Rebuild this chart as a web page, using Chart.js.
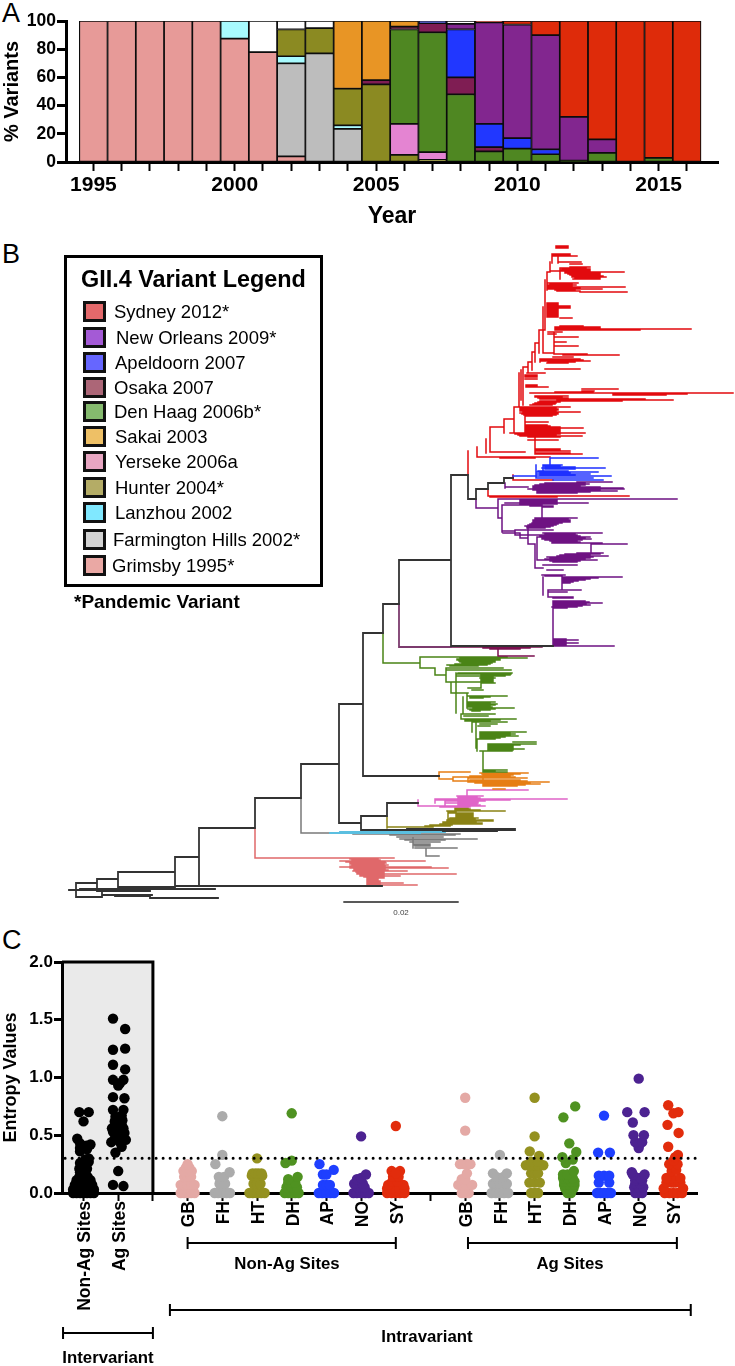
<!DOCTYPE html>
<html>
<head>
<meta charset="utf-8">
<title>GII.4 variants</title>
<script src="https://cdn.jsdelivr.net/npm/chart.js@4/dist/chart.umd.min.js"></script>
<style>
html, body { margin: 0; padding: 0; background: #fff; }
body { position: relative; width: 735px; height: 1366px; overflow: hidden; font-family: 'Liberation Sans', Arial, sans-serif; color: #000; }
canvas { position: absolute; left: 0; }
#chartA { top: 0; }
#chartB { top: 230px; }
#chartC { top: 930px; }
.panel { position: absolute; left: 2px; font-size: 27px; line-height: 30px; }
#legendBox { position: absolute; left: 64px; top: 255px; width: 253px; height: 326px; border: 3px solid #000; background: #fff; }
#legendBox h3 { position: absolute; left: 14px; top: 8px; margin: 0; font-size: 23.4px; line-height: 26px; white-space: nowrap; }
.entry { position: absolute; font-size: 18.5px; line-height: 20px; white-space: nowrap; }
.swatch { position: absolute; left: -27px; top: -1px; width: 17px; height: 15px; border: 3px solid #111; }
#pandemic { position: absolute; left: 74px; top: 593px; font-size: 19px; line-height: 18px; font-weight: bold; }
</style>
</head>
<body>
<div class="panel" style="top:-2px">A</div>
<div class="panel" style="top:239px">B</div>
<div class="panel" style="top:925px">C</div>
<canvas id="chartA" width="735" height="230"></canvas>
<canvas id="chartB" width="735" height="695"></canvas>
<canvas id="chartC" width="735" height="436"></canvas>
<div id="legendBox"><h3>GII.4 Variant Legend</h3></div>
<div id="pandemic">*Pandemic Variant</div>
<script>
/* ============================================
   DATA - PANEL A (% of sequences per year)
============================================ */
const years = [1995,1996,1997,1998,1999,2000,2001,2002,2003,2004,2005,2006,2007,2008,2009,2010,2011,2012,2013,2014,2015,2016];
const grimsbyPct    = [100,100,100,100,100,87.5,78,4,null,null,null,null,null,null,null,null,null,null,null,null,null,null];
const farmingtonPct = [null,null,null,null,null,null,null,66,77,23.5,null,null,null,null,null,null,null,null,null,null,null,null];
const lanzhouPct    = [null,null,null,null,null,12.5,null,5,null,2.5,null,null,null,null,null,null,null,null,null,null,null,null];
const hunterPct     = [null,null,null,null,null,null,null,19,18,26,55,5,1.5,null,null,null,null,null,null,null,null,null];
const yersekePct    = [null,null,null,null,null,null,null,null,null,null,null,22,5.5,null,null,null,null,null,null,null,null,null];
const denHaagPct    = [null,null,null,null,null,null,null,null,null,null,null,67,85,48,7.5,9.5,5.5,1,6.5,null,3,null];
const osakaPct      = [null,null,null,null,null,null,null,null,null,null,3,2,6.5,12,3,null,null,null,null,null,null,null];
const apeldoornPct  = [null,null,null,null,null,null,null,null,null,null,null,null,1.5,34,16.5,7.5,3.5,null,null,null,null,null];
const newOrleansPct = [null,null,null,null,null,null,null,null,null,null,null,null,null,4,72,80.5,81,31,9.5,null,null,null];
const sakaiPct      = [null,null,null,null,null,null,null,null,null,48,42,4,null,null,null,null,null,null,null,null,null,null];
const sydneyPct     = [null,null,null,null,null,null,null,null,null,null,null,null,null,null,1,2.5,10,68,84,100,97,100];
const otherPct      = [null,null,null,null,null,null,22,6,5,null,null,null,null,2,null,null,null,null,null,null,null,null];

/* ============================================
   DATA - PANEL B (tree branches)
   H = [row, depth from, depth to], V = [depth, row from, row to]
============================================ */
const blackH = [[475,451,468],[499,468,476],[489,476,488],[483,488,504],[478,504,513],[646,451,553],[560,399,451],[604,383,399],[633,363,383],[704,339,363],[776,363,439],[823,339,361],[816,361,387],[830,361,515],[829,407,515],[803,387,418],[764,301,339],[798,255,301],[828,199,255],[886,175,370],[886,340,382],[857,175,199],[887,118,175],[872,118,175],[879,97,118],[883,76,97],[897,76,102],[890,69,97],[889,80,97],[889,97,215],[890,118,150],[891,97,150],[895,102,152],[896,115,150],[898,150,218],[831,443,497]];
const blackV = [[451,475,646],[468,475,499],[476,489,499],[488,483,489],[504,478,483],[399,560,604],[383,604,633],[363,633,776],[339,704,823],[361,816,830],[387,803,816],[301,764,798],[255,798,828],[199,828,886],[175,857,887],[118,872,888],[97,879,890],[76,883,897],[102,892,897]];
const scaleBarH = [[902,344,458]];
const mauveH = [[647,399,451]];
const mauveV = [[399,604,647]];

const redH = [[246,556,568],[247,556,568],[248,556,568],[254,552,570],[255,552,570],[256,552,577],[262,558,581],[264,570,582],
  [267,570,590],[268,560,586],[269,562,590],[270,560,590],[271,550,590],[272,565,624],[273,565,600],[274,568,600],[275,570,600],[276,572,603],[277,572,606],[278,575,600],[279,573,600],
  [283,548,578],[284,550,572],[285,547,576],[286,547,572],[287,547,625],[288,548,580],[289,548,602],[290,555,575],[291,557,580],[292,580,627],
  [303,547,558],[304,547,558],[305,547,558],[306,547,570],[307,547,570],[308,547,570],[309,547,558],[310,547,558],[311,547,558],[312,547,558],[313,547,558],[314,547,558],[315,547,558],[316,547,558],[317,547,558],[318,560,572],
  [326,560,583],[327,555,600],[328,555,600],[329,555,691],[330,555,640],[332,548,562],[334,548,556],
  [337,554,578],[342,554,566],[346,554,578],[353,543,554],[354,554,587],[355,563,619],[357,553,573],
  [359,541,580],[360,540,583],[361,540,590],[362,548,575],[363,547,568],[369,545,580],[373,527,545],
  [375,525,537],[376,525,537],[377,525,537],[379,525,537],[385,526,537],[386,526,537],[387,526,548],
  [389,582,618],[391,582,594],[392,555,593],[393,530,733],[394,613,687],[395,613,666],
  [396,535,568],[397,535,562],[398,538,568],[399,540,645],[400,557,673],[401,540,622],[402,538,560],[403,535,556],[404,533,555],[405,530,552],
  [407,514,570],[408,520,556],[409,520,558],[410,520,558],[411,520,556],[412,523,580],[413,520,558],[414,522,558],[415,524,556],[416,525,552],
  [422,525,548],[425,525,547],[426,525,550],[427,525,560],[428,525,583],[429,525,560],[430,525,560],[431,525,560],[432,525,560],[433,510,585],[434,515,560],[435,518,556],
  [436,520,582],[437,528,560],[440,528,558],[449,535,560],[450,535,560],[451,535,570],[452,490,525],[453,535,570],[454,535,582],[457,477,550],[458,500,535],
  [427,490,504],[419,504,514],[272,547,550],[330,539,545],[343,535,539],[352,532,535],[362,528,532],[367,523,528],[496,488,629],[497,490,557],[480,513,553]];
const redV = [[552,254,263],[550,262,272],[547,272,290],[545,280,330],[543,307,353],[539,330,353],[535,343,362],[532,352,370],[528,362,373],[523,367,405],[521,370,400],[519,373,407],[514,407,432],[504,419,433],[490,427,452],[486,439,453],[477,447,457],[468,451,475],[560,268,279],[558,255,263],[554,333,354],[540,359,362],[525,412,432],[535,438,453],[488,489,496],[513,475,480]];

const blueH = [[458,550,598],[465,543,562],[466,543,560],[467,545,575],[468,542,605],[469,545,575],[471,538,568],[472,537,598],[473,540,570],[474,537,590],[475,540,575],[476,513,611],[478,537,593],[480,553,603]];
const blueV = [[550,458,465],[536,465,478],[543,465,472]];

const purpleH = [[482,577,612],[483,545,585],[484,540,589],[485,535,585],[486,533,580],[487,505,528],[487,533,600],[488,533,623],[489,528,624],[490,533,600],[491,537,617],[492,537,590],[493,537,577],
  [499,498,677],[500,520,557],[501,520,557],[502,520,557],[503,505,588],[504,520,557],[505,502,542],[506,530,553],[507,542,553],[508,476,498],
  [518,535,577],[519,535,568],[520,533,570],[521,533,570],[522,533,570],[523,532,562],[524,530,558],[525,528,556],[526,525,553],[527,527,550],[528,527,545],[530,515,553],[531,502,515],
  [533,503,520],[533,543,602],[534,545,575],[535,515,577],[536,540,580],[537,537,590],[538,520,528],[538,542,585],[539,542,591],[540,545,582],[541,550,577],[542,552,580],[543,552,602],
  [544,528,535],[544,591,627],[553,577,603],[554,565,600],[555,560,590],[556,557,608],[557,547,593],[558,550,590],[559,545,585],[560,537,597],[561,550,580],[562,553,577],[565,543,577],[568,535,543],[570,547,563],
  [575,542,565],[576,545,562],[577,562,622],[578,562,598],[579,562,590],[580,562,585],[581,562,578],[582,562,573],[583,562,570],[590,548,581],[592,548,567],[597,548,573],[598,553,573],
  [601,553,585],[602,553,589],[603,553,602],[604,553,586],[605,553,590],[606,553,582],[607,552,577],[608,553,567],
  [639,554,566],[640,554,578],[641,554,566],[642,554,566],[643,554,578],[644,554,566],[645,554,566],[646,553,614],[518,498,502]];
const purpleV = [[505,483,488],[476,499,508],[498,499,518],[502,505,532],[542,505,518],[515,530,535],[520,533,538],[528,526,544],[535,544,568],[537,537,560],[591,544,553],[562,575,590],[543,577,595],[548,590,597],[553,603,646]];

const osakaH = [[647,452,542],[648,483,530],[649,490,520],[656,498,534]];
const osakaV = [[498,648,656]];

const greenH = [[663,383,420],[657,420,507],[658,460,527],[659,457,500],[660,457,500],[661,459,495],[662,460,495],[663,462,492],[664,455,490],[665,447,487],[666,450,478],[668,420,435],[668,446,503],[670,446,511],[675,435,446],
  [673,458,512],[674,456,511],[675,482,510],[676,456,505],[677,482,493],[678,480,495],[679,482,493],[680,482,493],[681,482,493],[682,447,493],[683,482,495],[688,468,481],
  [690,472,483],[693,451,468],[696,468,507],[697,470,490],[698,470,483],[702,468,495],[703,468,490],[704,468,497],[705,468,495],[706,468,490],[707,468,492],[708,473,514],[709,468,495],[710,470,490],[711,472,480],
  [714,462,495],[716,464,488],[719,461,516],[720,465,500],[721,465,490],[722,472,507],[724,480,497],[726,478,490],
  [732,480,526],[733,480,510],[734,480,515],[735,480,510],[736,480,518],[737,480,505],[738,480,500],[739,477,495],[742,513,536],[744,488,536],[745,488,520],[746,488,513],[747,488,513],[748,488,513],[749,488,524],[750,488,513],[751,480,512],
  [770,483,507],[771,483,495],[772,483,507]];
const greenV = [[383,633,663],[420,657,668],[435,668,675],[446,668,682],[456,673,713],[451,682,693],[467,693,708],[463,697,714],[461,714,719],[472,719,732],[476,722,748],[481,675,688],[477,739,751],[483,752,772]];

const orangeH = [[772,439,470],[773,480,528],[774,482,520],[775,483,513],[776,470,510],[777,453,515],[778,468,527],[779,439,453],[780,470,520],[781,453,527],[782,468,549],[783,475,530],[784,483,540],[785,483,525],[786,483,517],[789,493,505]];
const orangeV = [[439,772,779],[453,777,781],[468,778,782],[483,773,786]];
const orangeTailH = [[830,458,488]];

const yersekeH = [[790,467,528],[796,457,483],[797,458,477],[798,458,480],[799,435,567],[800,435,510],[801,445,485],[802,458,478],[803,445,478],[804,458,477],[805,458,480],[806,418,485],[807,440,470]];
const yersekeV = [[418,800,806],[435,799,803],[445,801,805],[467,790,800]];

const hunterH = [[827,387,433],[826,425,450],[825,430,452],[824,440,482],[823,443,482],[822,443,476],[821,447,493],[820,447,493],[819,450,475],[818,450,478],[817,457,473],[816,457,473],[815,457,473],[814,457,473],[813,448,473],[811,447,505],[810,455,480],[809,455,470],[808,455,468],[819,448,455],[812,448,456]];
const hunterV = [[387,816,828],[448,812,820],[456,808,820]];

const lanzhouH = [[833,330,360],[832,340,445],[833,360,420]];

const grayH = [[833,301,330],[834,353,460],[835,390,455],[837,397,443],[839,400,477],[840,405,445],[842,410,440],[844,413,430],[845,413,430],[846,415,430],[848,415,457],[856,427,439]];
const grayV = [[301,798,833],[413,838,848],[426,848,856]];

const grimsbyH = [[858,255,394],[859,350,378],[860,352,380],[861,340,425],[862,346,385],[863,350,386],[864,350,384],[865,352,388],[866,350,385],[867,340,431],[868,350,448],[869,354,385],[870,354,388],[871,353,407],[872,356,384],[873,357,384],[874,357,456],[875,360,384],[876,360,400],[877,364,384],[878,367,384],[879,368,378],[880,368,378],[881,368,380],[882,368,380],[883,368,403],[884,368,380],[885,368,417]];
const grimsbyV = [[255,828,858],[367,877,885]];

/* ============================================
   DATA - PANEL C ([offset from column, entropy])
============================================ */
const stripTicks = [0,1,2,3,4,5,6,7,8,9,10,11,12,13,14,15,16,17];
const stripLabels = ['Non-Ag Sites','Ag Sites','','GB','FH','HT','DH','AP','NO','SY','','GB','FH','HT','DH','AP','NO','SY'];
const yearTickLabels = [1995,2000,2005,2010,2015];
const cutoffLine = [[-0.53,0.3],[17.68,0.3]];

const interNonAg = [[-.3,0],[-.2,0],[-.1,0],[0,0],[.1,0],[.2,0],[.3,0],[-.3,.03],[-.15,.03],[.15,.03],[.3,.03],[-.25,.07],[-.1,.07],[.1,.07],[.25,.07],[-.2,.11],[-.08,.11],[.08,.11],[.2,.11],[-.12,.14],[.12,.14],[-.1,.18],[.05,.18],[-.12,.21],[.1,.21],[-.05,.23],[.05,.24],[-.1,.26],[.15,.27],[.05,.29],[.15,.3],[-.1,.36],[.1,.38],[-.1,.39],[.2,.42],[-.1,.43],[.08,.41],[-.18,.47],[0,.62],[-.12,.7],[.15,.7]];
const interAg = [[-.15,.07],[.15,.06],[0,.19],[-.08,.35],[.1,.4],[-.2,.44],[.22,.46],[.05,.44],[-.1,.47],[.12,.48],[-.05,.5],[.18,.52],[-.15,.53],[.05,.54],[-.18,.56],[.15,.56],[0,.57],[-.08,.59],[.1,.59],[-.1,.62],[.12,.63],[0,.65],[-.08,.66],[.1,.67],[-.15,.72],[.15,.72],[-.15,.83],[.18,.82],[0,.93],[.05,.95],[-.15,.98],[.15,.98],[.2,1.07],[-.15,1.11],[-.15,1.24],[.2,1.25],[.2,1.42],[-.15,1.51]];

const gbNonAg = [[-.2,0],[-.1,0],[0,0],[.1,0],[.2,0],[-.2,.07],[-.1,.07],[0,.07],[.1,.07],[.2,.07],[-.1,.14],[0,.14],[.1,.14],[-.12,.19],[0,.19],[.12,.19],[-.05,.22],[.05,.22],[0,.25]];
const fhNonAg = [[-.22,0],[-.12,0],[0,0],[.12,0],[.22,0],[-.08,.08],[.08,.08],[-.1,.14],[.05,.14],[.21,.18],[-.2,.25],[0,.33],[0,.665]];
const htNonAg = [[-.22,0],[-.12,0],[0,0],[.12,0],[.22,0],[-.1,.08],[0,.08],[.1,.08],[-.15,.15],[0,.15],[.15,.15],[-.13,.17],[-.04,.17],[.04,.17],[.13,.17],[0,.3]];
const dhNonAg = [[-.2,0],[-.1,0],[0,0],[.1,0],[.2,0],[-.15,.05],[0,.05],[.15,.05],[-.1,.09],[0,.09],[.1,.09],[-.1,.12],[.17,.14],[-.18,.26],[0,.28],[0,.69]];
const apNonAg = [[-.22,0],[-.12,0],[0,0],[.12,0],[.22,0],[-.1,.07],[0,.07],[.1,.07],[-.1,.16],[0,.16],[.21,.2],[-.2,.25]];
const noNonAg = [[-.22,0],[-.12,0],[0,0],[.12,0],[.22,0],[-.1,.05],[0,.05],[.1,.05],[-.2,.08],[.05,.08],[-.12,.12],[0,.13],[.14,.16],[0,.49]];
const syNonAg = [[-.25,0],[-.12,0],[0,0],[.12,0],[.25,0],[-.25,.04],[-.1,.04],[.1,.04],[.25,.04],[-.22,.07],[.22,.07],[-.1,.1],[.05,.1],[-.08,.14],[.08,.14],[-.12,.19],[.12,.19],[0,.17],[0,.58]];

const gbAg = [[-.1,0],[0,0],[.1,0],[-.2,.07],[-.1,.07],[0,.07],[.2,.07],[-.1,.12],[0,.12],[.05,.17],[-.15,.25],[-.05,.25],[.05,.25],[.15,.25],[0,.54],[0,.825]];
const fhAg = [[-.24,0],[-.12,0],[0,0],[.12,0],[.24,0],[-.2,.08],[-.12,.08],[0,.08],[.12,.08],[.2,.08],[-.2,.17],[-.1,.14],[.1,.14],[.2,.17],[0,.33]];
const htAg = [[-.1,0],[0,0],[.1,0],[-.15,.09],[0,.09],[.15,.09],[-.1,.17],[0,.17],[.1,.17],[-.25,.24],[-.1,.24],[0,.24],[.1,.24],[.25,.24],[-.1,.27],[.1,.27],[.13,.32],[-.14,.36],[0,.49],[0,.825]];
const dhAg = [[-.05,0],[.05,0],[-.12,.04],[0,.04],[.12,.04],[-.15,.07],[0,.07],[.15,.07],[-.15,.1],[.05,.1],[.15,.1],[-.18,.13],[-.05,.13],[.1,.13],[-.18,.16],[-.05,.16],[.13,.19],[-.1,.26],[.1,.29],[-.2,.31],[.2,.355],[0,.43],[-.17,.655],[.17,.75]];
const apAg = [[-.2,0],[-.1,0],[0,0],[.1,0],[.2,0],[-.15,.09],[.15,.09],[-.15,.15],[0,.15],[.15,.15],[-.17,.35],[.17,.35],[0,.67]];
const noAg = [[-.1,0],[0,0],[.1,0],[-.13,.05],[0,.05],[.13,.05],[-.1,.08],[.05,.08],[-.1,.11],[.1,.11],[-.05,.13],[.05,.13],[-.17,.16],[.17,.16],[-.2,.18],[0,.39],[0,.41],[-.1,.44],[.1,.44],[-.15,.5],[.15,.5],[-.17,.61],[-.33,.7],[.17,.7],[0,.99]];
const syAg = [[-.25,0],[-.12,0],[0,0],[.12,0],[.25,0],[-.28,.04],[.28,.04],[-.2,.09],[-.05,.09],[.05,.09],[.2,.09],[-.05,.13],[-.2,.13],[.2,.13],[-.05,.19],[.08,.2],[-.12,.25],[.12,.25],[0,.28],[.05,.31],[.13,.33],[-.15,.4],[.15,.52],[-.17,.59],[0,.69],[.14,.7],[-.15,.76]];

/* ============================================
   LEGEND (panel B)
============================================ */
const legendNames = ['Sydney 2012*','New Orleans 2009*','Apeldoorn 2007','Osaka 2007','Den Haag 2006b*','Sakai 2003','Yerseke 2006a','Hunter 2004*','Lanzhou 2002','Farmington Hills 2002*','Grimsby 1995*'];
const legendColors = ['#E4696B','#A45AD6','#6666FF','#AC6677','#85BA6E','#EEC066','#E8A6C2','#B4AC66','#80E8FF','#D2D2D2','#EAA8A4'];
const legendLeft = [114,116,115,114,114,115,115,115,115,113,112];
const legendTop = [302,328,353,378,402,427,452,478,503,530,556];

function initLegend() {
    const box = document.getElementById('legendBox');
    legendNames.forEach((name, i) => {
        const el = document.createElement('div');
        el.className = 'entry';
        el.style.left = (legendLeft[i] - 67) + 'px';
        el.style.top = (legendTop[i] - 258) + 'px';
        el.textContent = name;
        const sw = document.createElement('span');
        sw.className = 'swatch';
        sw.style.background = legendColors[i];
        sw.style.left = (83 - legendLeft[i]) + 'px';
        el.appendChild(sw);
        box.appendChild(el);
    });
}

/* ============================================
   PANEL A - STACKED BARS
============================================ */
function fixedAxisWidth(w) { return s => { s.width = w; }; }
function fixedAxisHeight(h) { return s => { s.height = h; }; }

function initBars() {
    const stack = [
        [grimsbyPct, '#E79A98'], [farmingtonPct, '#BDBDBD'], [lanzhouPct, '#A8FBFE'],
        [hunterPct, '#8B8A22'], [yersekePct, '#E484D2'], [denHaagPct, '#4F8722'],
        [osakaPct, '#7F1D53'], [apeldoornPct, '#2137FF'], [newOrleansPct, '#82268F'],
        [sakaiPct, '#E89525'], [sydneyPct, '#DE2B0A'], [otherPct, '#FFFFFF']
    ];
    new Chart(document.getElementById('chartA'), {
        type: 'bar',
        data: {
            labels: years,
            datasets: stack.map(s => ({
                data: s[0],
                backgroundColor: s[1],
                borderColor: '#0c0c0c',
                borderWidth: 1.2,
                borderSkipped: false,
                barPercentage: 1,
                categoryPercentage: 1
            }))
        },
        options: {
            responsive: false,
            animation: false,
            layout: { padding: { top: 21, right: 17 } },
            plugins: { legend: { display: false }, tooltip: { enabled: false } },
            scales: {
                x: {
                    type: 'linear', stacked: true, offset: false, min: 1994.03, max: 2017.1,
                    afterFit: fixedAxisHeight(68),
                    afterBuildTicks: s => { s.ticks = years.map(v => ({ value: v })); },
                    grid: { offset: false, drawOnChartArea: false, color: '#000', tickWidth: 2, tickLength: 9 },
                    border: { color: '#000', width: 3 },
                    ticks: {
                        autoSkip: false, maxRotation: 0, padding: 2, color: '#000',
                        font: { family: 'Liberation Sans', size: 21, weight: 'bold' },
                        callback: v => yearTickLabels.includes(v) ? String(v) : ''
                    },
                    title: { display: true, text: 'Year', color: '#000', padding: { top: 0, bottom: 0 }, font: { family: 'Liberation Sans', size: 23, weight: 'bold' } }
                },
                y: {
                    stacked: true, min: 0, max: 100,
                    afterFit: fixedAxisWidth(66),
                    grid: { drawOnChartArea: false, color: '#000', tickWidth: 3, tickLength: 9 },
                    border: { color: '#000', width: 3 },
                    ticks: { stepSize: 20, padding: 1, color: '#000', font: { family: 'Liberation Sans', size: 17.5, weight: 'bold' } },
                    title: { display: true, text: '% Variants', color: '#000', padding: 0, font: { family: 'Liberation Sans', size: 20, weight: 'bold' } }
                }
            }
        }
    });
}

/* ============================================
   PANEL B - TREE
============================================ */
function branchPoints(hList, vList) {
    const pts = [];
    hList.forEach(b => pts.push({ x: b[1], y: b[0] }, { x: b[2], y: b[0] }, { x: null, y: null }));
    vList.forEach(b => pts.push({ x: b[0], y: b[1] }, { x: b[0], y: b[2] }, { x: null, y: null }));
    return pts;
}

function treeSet(hList, vList, color, width) {
    return {
        data: branchPoints(hList, vList),
        showLine: true, spanGaps: false,
        borderColor: color, borderWidth: width || 1.5,
        pointRadius: 0, borderCapStyle: 'square'
    };
}

const scaleLabelPlugin = {
    id: 'scaleLabel',
    afterDatasetsDraw(chart) {
        const c = chart.ctx;
        c.save();
        c.fillStyle = '#444';
        c.font = '8px "Liberation Sans"';
        c.textAlign = 'center';
        c.fillText('0.02', chart.scales.x.getPixelForValue(401), chart.scales.y.getPixelForValue(915));
        c.restore();
    }
};

function initTree() {
    new Chart(document.getElementById('chartB'), {
        type: 'scatter',
        data: {
            datasets: [
                treeSet(blackH, blackV, '#333333', 1.8),
                treeSet(scaleBarH, [], '#222222', 1.4),
                treeSet(mauveH, mauveV, '#7C3B6E', 1.8),
                treeSet(blueH, blueV, '#1E30FF'),
                treeSet(purpleH, purpleV, '#6E1282'),
                treeSet(osakaH, osakaV, '#7A0F4E'),
                treeSet(redH, redV, '#E20A0E'),
                treeSet(greenH, greenV, '#4A8416'),
                treeSet(orangeH, orangeV, '#E67E14'),
                treeSet(orangeTailH, [], '#E67E14'),
                treeSet(yersekeH, yersekeV, '#E064C8'),
                treeSet(hunterH, hunterV, '#8A8214'),
                treeSet(lanzhouH, [], '#5BBFE0', 1.8),
                treeSet(grayH, grayV, '#7A7A7A'),
                treeSet(grimsbyH, grimsbyV, '#E0686A')
            ]
        },
        options: {
            responsive: false,
            animation: false,
            layout: { padding: 0 },
            plugins: { legend: { display: false }, tooltip: { enabled: false } },
            scales: {
                x: { type: 'linear', display: false, min: 0, max: 735 },
                y: { type: 'linear', display: false, min: 230, max: 925, reverse: true }
            }
        },
        plugins: [scaleLabelPlugin]
    });
}

/* ============================================
   PANEL C - STRIP PLOT
============================================ */
const brackets = [
    { text: '', from: -0.59, to: 2, y: 403 },
    { text: 'Intervariant', from: -0.59, to: 2, y: null, textX: 108, textY: 428 },
    { text: 'Non-Ag Sites', from: 3, to: 9, y: 313, textX: 287, textY: 334 },
    { text: 'Ag Sites', from: 11.08, to: 17.1, y: 313, textX: 570, textY: 334 },
    { text: 'Intravariant', from: 2.49, to: 17.5, y: 380, textX: 427, textY: 407 }
];

const panelCPlugin = {
    id: 'panelC',
    beforeDraw(chart) {
        const { ctx: c, scales: { x, y } } = chart;
        const left = x.getPixelForValue(x.min), right = x.getPixelForValue(2);
        const top = y.getPixelForValue(2), bottom = y.getPixelForValue(0);
        c.save();
        c.fillStyle = '#EAEAEA';
        c.fillRect(left, top, right - left, bottom - top);
        c.strokeStyle = '#000';
        c.lineWidth = 3;
        c.beginPath();
        c.moveTo(left, top);
        c.lineTo(right, top);
        c.lineTo(right, bottom);
        c.stroke();
        c.restore();
    },
    afterDraw(chart) {
        const { ctx: c, scales: { x } } = chart;
        c.save();
        c.strokeStyle = '#000';
        c.fillStyle = '#000';
        c.lineWidth = 2;
        c.font = 'bold 16.8px "Liberation Sans"';
        c.textAlign = 'center';
        c.textBaseline = 'middle';
        brackets.forEach(b => {
            if (b.y !== null) {
                const a = x.getPixelForValue(b.from), z = x.getPixelForValue(b.to);
                c.beginPath();
                c.moveTo(a, b.y - 6); c.lineTo(a, b.y + 6);
                c.moveTo(a, b.y); c.lineTo(z, b.y);
                c.moveTo(z, b.y - 6); c.lineTo(z, b.y + 6);
                c.stroke();
            }
            if (b.text) c.fillText(b.text, b.textX, b.textY);
        });
        c.restore();
    }
};

function stripSet(points, column, color) {
    return {
        data: points.map(p => ({ x: column + p[0], y: p[1] })),
        pointRadius: 5.2,
        pointBackgroundColor: color,
        pointBorderWidth: 0,
        clip: false
    };
}

function initStrip() {
    const cols = [
        [interNonAg, 0, '#000000'], [interAg, 1, '#000000'],
        [gbNonAg, 3, '#E4A9A5'], [fhNonAg, 4, '#ABABAB'], [htNonAg, 5, '#949120'], [dhNonAg, 6, '#4F9221'],
        [apNonAg, 7, '#1E3FFF'], [noNonAg, 8, '#4C2291'], [syNonAg, 9, '#E22C0C'],
        [gbAg, 11, '#E4A9A5'], [fhAg, 12, '#ABABAB'], [htAg, 13, '#949120'], [dhAg, 14, '#4F9221'],
        [apAg, 15, '#1E3FFF'], [noAg, 16, '#4C2291'], [syAg, 17, '#E22C0C']
    ];
    const cutoff = {
        data: cutoffLine.map(p => ({ x: p[0], y: p[1] })),
        showLine: true, pointRadius: 0,
        borderColor: '#000', borderWidth: 3,
        borderDash: [0, 7], borderCapStyle: 'round'
    };
    new Chart(document.getElementById('chartC'), {
        type: 'scatter',
        data: { datasets: [cutoff].concat(cols.map(c => stripSet(c[0], c[1], c[2]))) },
        options: {
            responsive: false,
            animation: false,
            layout: { padding: { top: 32, right: 38 } },
            plugins: { legend: { display: false }, tooltip: { enabled: false } },
            scales: {
                x: {
                    type: 'linear', min: -0.62, max: 17.68,
                    afterFit: fixedAxisHeight(173),
                    afterBuildTicks: s => { s.ticks = stripTicks.map(v => ({ value: v })); },
                    grid: { drawOnChartArea: false, color: '#000', tickWidth: 2, tickLength: 8 },
                    border: { color: '#000', width: 3 },
                    ticks: {
                        autoSkip: false, minRotation: 90, maxRotation: 90, padding: 0, labelOffset: 2, color: '#000',
                        font: { family: 'Liberation Sans', size: 17.5, weight: 'bold' },
                        callback: v => stripLabels[stripTicks.indexOf(v)]
                    }
                },
                y: {
                    min: 0, max: 2,
                    afterFit: fixedAxisWidth(62),
                    grid: { drawOnChartArea: false, color: '#000', tickWidth: 3, tickLength: 8 },
                    border: { color: '#000', width: 3 },
                    ticks: {
                        stepSize: 0.5, padding: 1, color: '#000',
                        font: { family: 'Liberation Sans', size: 17, weight: 'bold' },
                        callback: v => v.toFixed(1)
                    },
                    title: { display: true, text: 'Entropy Values', color: '#000', padding: 0, font: { family: 'Liberation Sans', size: 18, weight: 'bold' } }
                }
            }
        },
        plugins: [panelCPlugin]
    });
}

initBars();
initTree();
initLegend();
initStrip();
</script>
</body>
</html>
